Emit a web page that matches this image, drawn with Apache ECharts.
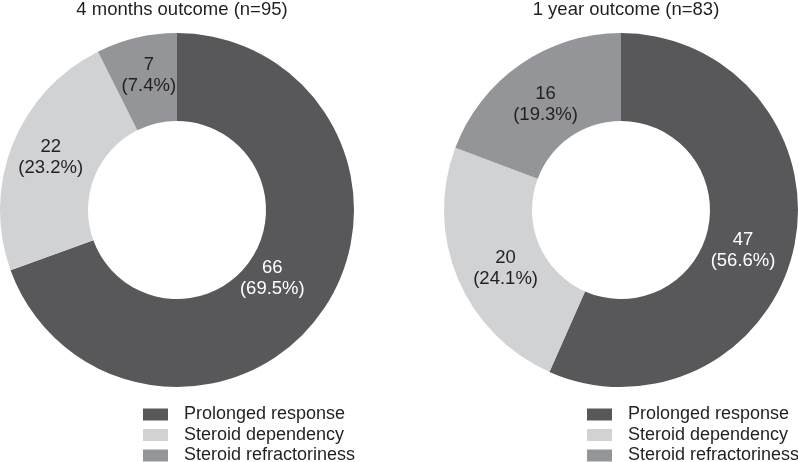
<!DOCTYPE html>
<html><head><meta charset="utf-8">
<script src="https://cdn.jsdelivr.net/npm/echarts@6/dist/echarts.min.js"></script>
<style>html,body{margin:0;padding:0;background:#fff}#c{width:798px;height:462px}</style>
</head><body><div id="c"></div>
<script>
const categories = ['Prolonged response', 'Steroid dependency', 'Steroid refractoriness'];
const months4Values = [66, 22, 7];
const months4Pct = ['69.5%', '23.2%', '7.4%'];
const year1Values = [47, 20, 16];
const year1Pct = ['56.6%', '24.1%', '19.3%'];
const titles = ['4 months outcome (n=95)', '1 year outcome (n=83)'];
const colors = ['#58585a', '#d1d2d4', '#939598'];
const labelColors = ['#ffffff', '#231f20', '#231f20'];
const font = 'Liberation Sans, Arial, sans-serif';
// label nudges (style only)
const labelNudge = [
  [[-16, -10], [0, -2], [3, -2]],
  [[-11, 12], [10, 6], [2, 6]]
];

function mk(vals, pcts, s) {
  return vals.map((v, i) => ({
    name: categories[i], value: v,
    itemStyle: { color: colors[i] },
    label: { color: labelColors[i], formatter: v + '\n(' + pcts[i] + ')', offset: labelNudge[s][i] }
  }));
}
const centers = [177, 621];
const chart = echarts.init(document.getElementById('c'));
chart.setOption({
  animation: false,
  title: titles.map((t, i) => ({
    text: t, left: centers[i], top: -5, textAlign: 'center',
    textStyle: { fontFamily: font, fontSize: 18.5, fontWeight: 'normal', color: '#231f20' }
  })),
  legend: [143, 587].map(l => ({
    orient: 'horizontal', left: l, top: 405.5, width: 235, padding: 0,
    itemWidth: 25, itemHeight: 12, itemGap: 2.5,
    icon: 'rect', data: categories,
    textStyle: { fontFamily: font, fontSize: 18, lineHeight: 18, color: '#231f20', padding: [0, 0, 0, 11] },
    selectedMode: false
  })),
  series: [
    { type: 'pie', center: [177, 210], radius: [89, 177], startAngle: 90, clockwise: true,
      label: { position: 'inside', fontFamily: font, fontSize: 18.5, lineHeight: 21 },
      labelLine: { show: false }, emphasis: { disabled: true },
      data: mk(months4Values, months4Pct, 0) },
    { type: 'pie', center: [621, 210], radius: [89, 177], startAngle: 90, clockwise: true,
      label: { position: 'inside', fontFamily: font, fontSize: 18.5, lineHeight: 21 },
      labelLine: { show: false }, emphasis: { disabled: true },
      data: mk(year1Values, year1Pct, 1) }
  ]
});
</script></body></html>
